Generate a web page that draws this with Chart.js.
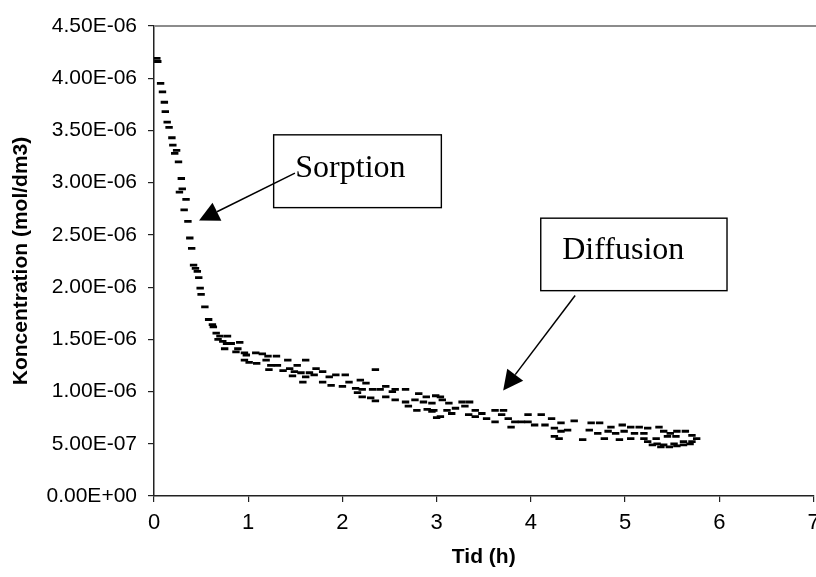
<!DOCTYPE html>
<html>
<head>
<meta charset="utf-8">
<script src="https://cdn.jsdelivr.net/npm/chart.js@4.4.1/dist/chart.umd.min.js"></script>
<style>
  html, body { margin: 0; padding: 0; background: #fff; overflow: hidden; }
  #wrap { width: 820px; height: 577px; position: relative; }
</style>
</head>
<body>
<div id="wrap"><canvas id="myChart"></canvas></div>
<script>
// time in hours
var timeH = [
  0.03, 0.04, 0.07, 0.09, 0.11, 0.12, 0.14, 0.16, 0.19, 0.20,
  0.22, 0.24, 0.26, 0.27, 0.29, 0.30, 0.32, 0.34, 0.36, 0.38,
  0.40, 0.42, 0.44, 0.46, 0.475, 0.49, 0.50, 0.54, 0.58, 0.62,
  0.63, 0.66, 0.68, 0.70, 0.73, 0.75, 0.77, 0.78, 0.82, 0.87,
  0.89, 0.91, 0.96, 0.96, 0.98, 1.01, 1.08, 1.09, 1.15, 1.19,
  1.21, 1.22, 1.24, 1.30, 1.31, 1.37, 1.42, 1.44, 1.47, 1.49,
  1.52, 1.56, 1.58, 1.61, 1.61, 1.65, 1.70, 1.72, 1.79, 1.79,
  1.86, 1.88, 1.93, 2.00, 2.03, 2.07, 2.14, 2.16, 2.19, 2.21,
  2.21, 2.25, 2.30, 2.32, 2.35, 2.35, 2.40, 2.46, 2.46, 2.53,
  2.56, 2.56, 2.67, 2.67, 2.70, 2.77, 2.79, 2.81, 2.86, 2.89,
  2.90, 2.95, 2.95, 2.97, 2.99, 3.00, 3.04, 3.04, 3.06, 3.11,
  3.13, 3.16, 3.20, 3.27, 3.30, 3.34, 3.35, 3.41, 3.41, 3.48,
  3.53, 3.62, 3.62, 3.69, 3.71, 3.76, 3.79, 3.83, 3.90, 3.97,
  3.97, 4.04, 4.11, 4.15, 4.22, 4.25, 4.25, 4.30, 4.32, 4.32,
  4.39, 4.46, 4.55, 4.62, 4.64, 4.71, 4.73, 4.78, 4.82, 4.85,
  4.90, 4.94, 4.97, 4.99, 5.06, 5.06, 5.10, 5.15, 5.20, 5.20,
  5.24, 5.24, 5.29, 5.33, 5.34, 5.36, 5.38, 5.41, 5.41, 5.45,
  5.47, 5.48, 5.52, 5.54, 5.55, 5.55, 5.62, 5.62, 5.64, 5.69,
  5.71, 5.71, 5.76
];

// concentration in 1E-06 mol/dm3
var concMicro = [
  4.19, 4.16, 3.95, 3.87, 3.77, 3.68, 3.58, 3.53, 3.43, 3.36,
  3.28, 3.31, 3.20, 2.91, 3.04, 2.94, 2.74, 2.84, 2.63, 2.47,
  2.37, 2.21, 2.18, 2.15, 2.09, 1.99, 1.93, 1.81, 1.69, 1.64,
  1.62, 1.56, 1.50, 1.53, 1.48, 1.41, 1.46, 1.53, 1.46, 1.38,
  1.41, 1.47, 1.37, 1.30, 1.35, 1.28, 1.37, 1.27, 1.36, 1.30,
  1.34, 1.21, 1.25, 1.34, 1.25, 1.20, 1.30, 1.22, 1.15, 1.19,
  1.25, 1.18, 1.09, 1.30, 1.14, 1.18, 1.16, 1.22, 1.19, 1.09,
  1.14, 1.06, 1.16, 1.05, 1.16, 1.09, 1.03, 0.99, 1.11, 1.02,
  0.95, 1.08, 0.94, 1.02, 1.21, 0.91, 1.02, 1.05, 0.95, 1.00,
  1.02, 0.92, 1.02, 0.90, 0.86, 0.92, 0.82, 0.98, 0.90, 0.95,
  0.83, 0.89, 0.81, 0.82, 0.96, 0.75, 0.95, 0.76, 0.92, 0.82,
  0.89, 0.79, 0.84, 0.90, 0.86, 0.78, 0.90, 0.82, 0.76, 0.79,
  0.74, 0.82, 0.71, 0.78, 0.82, 0.74, 0.66, 0.71, 0.71, 0.78,
  0.71, 0.68, 0.78, 0.68, 0.74, 0.65, 0.57, 0.55, 0.70, 0.62,
  0.63, 0.72, 0.54, 0.63, 0.70, 0.60, 0.70, 0.55, 0.62, 0.66,
  0.60, 0.54, 0.68, 0.62, 0.66, 0.55, 0.60, 0.66, 0.60, 0.55,
  0.65, 0.52, 0.49, 0.55, 0.50, 0.66, 0.47, 0.62, 0.49, 0.57,
  0.47, 0.60, 0.50, 0.57, 0.62, 0.48, 0.52, 0.49, 0.62, 0.50,
  0.58, 0.52, 0.55
];

var yTickLabels = ['0.00E+00', '5.00E-07', '1.00E-06', '1.50E-06', '2.00E-06',
                   '2.50E-06', '3.00E-06', '3.50E-06', '4.00E-06', '4.50E-06'];
var xTickLabels = ['0', '1', '2', '3', '4', '5', '6', '7'];

// callouts, placed in data units
var notes = [
  { text: 'Sorption',  box: [1.27, 3.458, 3.05, 2.761], textAt: [1.50, 3.058], from: [1.496, 3.091], to: [0.478, 2.637] },
  { text: 'Diffusion', box: [4.105, 2.660, 6.082, 1.966], textAt: [4.333, 2.267], from: [4.470, 1.919], to: [3.706, 1.009] }
];

var points = timeH.map(function(t, i) { return { x: t, y: concMicro[i] }; });

var calloutPlugin = {
  id: 'callouts',
  afterDraw: function(chart) {
    var ctx = chart.ctx, xs = chart.scales.x, ys = chart.scales.y, ca = chart.chartArea;
    ctx.save();
    // grey top frame line
    ctx.strokeStyle = '#8c8c8c';
    ctx.lineWidth = 2;
    ctx.beginPath();
    ctx.moveTo(ca.left, ca.top);
    ctx.lineTo(ca.right + 5, ca.top);
    ctx.stroke();

    notes.forEach(function(n) {
      var x1 = xs.getPixelForValue(n.box[0]), y1 = ys.getPixelForValue(n.box[1]);
      var x2 = xs.getPixelForValue(n.box[2]), y2 = ys.getPixelForValue(n.box[3]);
      ctx.fillStyle = '#fff';
      ctx.fillRect(x1, y1, x2 - x1, y2 - y1);
      ctx.strokeStyle = '#000';
      ctx.lineWidth = 1.4;
      ctx.strokeRect(x1, y1, x2 - x1, y2 - y1);

      ctx.fillStyle = '#000';
      ctx.font = '32px "Liberation Serif", "Times New Roman", serif';
      ctx.textAlign = 'left';
      ctx.textBaseline = 'alphabetic';
      ctx.fillText(n.text, xs.getPixelForValue(n.textAt[0]), ys.getPixelForValue(n.textAt[1]));

      var fx = xs.getPixelForValue(n.from[0]), fy = ys.getPixelForValue(n.from[1]);
      var tx = xs.getPixelForValue(n.to[0]), ty = ys.getPixelForValue(n.to[1]);
      var ang = Math.atan2(ty - fy, tx - fx);
      var len = 20, half = 10;
      var bx = tx - Math.cos(ang) * len, by = ty - Math.sin(ang) * len;
      ctx.lineWidth = 1.5;
      ctx.beginPath();
      ctx.moveTo(fx, fy);
      ctx.lineTo(bx, by);
      ctx.stroke();
      ctx.beginPath();
      ctx.moveTo(tx, ty);
      ctx.lineTo(bx - Math.sin(ang) * half, by + Math.cos(ang) * half);
      ctx.lineTo(bx + Math.sin(ang) * half, by - Math.cos(ang) * half);
      ctx.closePath();
      ctx.fill();
    });
    ctx.restore();
  }
};

var ctx = document.getElementById('myChart').getContext('2d');

var myChart = new Chart(ctx, {
  type: 'scatter',
  data: {
    datasets: [{
      data: points,
      pointStyle: 'line',
      pointRadius: 3.7,
      pointHoverRadius: 3.7,
      borderColor: '#000',
      backgroundColor: '#000',
      borderWidth: 2.8
    }]
  },
  options: {
    responsive: true,
    maintainAspectRatio: false,
    animation: false,
    layout: { padding: { left: 0, right: 3, top: 26, bottom: 0 } },
    plugins: {
      legend: { display: false },
      tooltip: { enabled: false }
    },
    scales: {
      x: {
        type: 'linear',
        min: 0,
        max: 7,
        afterFit: function(scale) { scale.height = 81; scale.paddingLeft = 0; scale.paddingRight = 0; },
        ticks: {
          stepSize: 1,
          padding: 8,
          color: '#000',
          font: { family: '"Liberation Sans", Arial, sans-serif', size: 22 },
          callback: function(v, i) { return xTickLabels[i]; }
        },
        grid: { drawOnChartArea: false, drawTicks: true, tickLength: 6, color: '#222', lineWidth: 1.2 },
        border: { display: true, color: '#222', width: 1.5 },
        title: {
          display: true,
          text: 'Tid (h)',
          color: '#000',
          font: { family: '"Liberation Sans", Arial, sans-serif', size: 21, weight: 'bold', lineHeight: 1 },
          padding: { top: 0, bottom: 9 }
        }
      },
      y: {
        min: 0,
        max: 4.5,
        afterFit: function(scale) { scale.width = 154; },
        ticks: {
          stepSize: 0.5,
          padding: 11,
          color: '#000',
          font: { family: '"Liberation Sans", Arial, sans-serif', size: 21 },
          callback: function(v, i) { return yTickLabels[i]; }
        },
        grid: { drawOnChartArea: false, drawTicks: true, tickLength: 6, color: '#222', lineWidth: 1.2 },
        border: { display: true, color: '#222', width: 1.5 },
        title: {
          display: true,
          text: 'Koncentration (mol/dm3)',
          color: '#000',
          font: { family: '"Liberation Sans", Arial, sans-serif', size: 21, weight: 'bold', lineHeight: 1.2 },
          padding: { top: 9, bottom: 0 }
        }
      }
    }
  },
  plugins: [calloutPlugin]
});
</script>
</body>
</html>
